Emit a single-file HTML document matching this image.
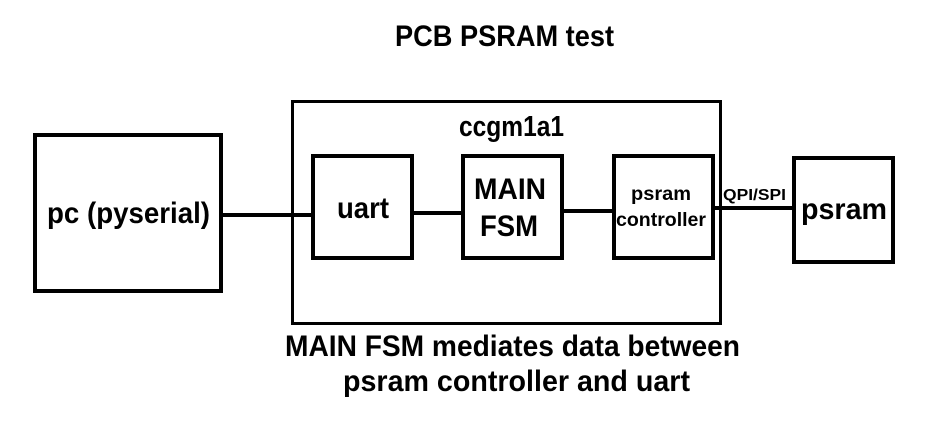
<!DOCTYPE html>
<html><head><meta charset="utf-8"><style>
html,body{margin:0;padding:0;background:#fff;}
svg{display:block}
text{font-family:"Liberation Sans",sans-serif;font-weight:bold;fill:#000;}
</style></head><body>
<svg width="932" height="422" viewBox="0 0 932 422" xmlns="http://www.w3.org/2000/svg">
<g fill="none" stroke="#000">
<rect x="35" y="135" width="186" height="156" stroke-width="4"/>
<rect x="292.5" y="101.5" width="428" height="222" stroke-width="3"/>
<rect x="313" y="156" width="99" height="102" stroke-width="4"/>
<rect x="463" y="156" width="99" height="102" stroke-width="4"/>
<rect x="614" y="156" width="99" height="102" stroke-width="4"/>
<rect x="794" y="158" width="99" height="104" stroke-width="4"/>
<line x1="223" y1="215" x2="311" y2="215" stroke-width="4"/>
<line x1="414" y1="213" x2="461" y2="213" stroke-width="4"/>
<line x1="564" y1="211" x2="612" y2="211" stroke-width="4"/>
<line x1="715" y1="208" x2="792" y2="208" stroke-width="4"/>
</g>
<text x="395" y="46" font-size="30" textLength="219" lengthAdjust="spacingAndGlyphs">PCB PSRAM test</text>
<text x="459" y="136" font-size="29" textLength="105" lengthAdjust="spacingAndGlyphs">ccgm1a1</text>
<text x="47" y="223" font-size="30" textLength="163" lengthAdjust="spacingAndGlyphs">pc (pyserial)</text>
<text x="337" y="218" font-size="30" textLength="52" lengthAdjust="spacingAndGlyphs">uart</text>
<text x="474" y="199" font-size="30" textLength="72" lengthAdjust="spacingAndGlyphs">MAIN</text>
<text x="480" y="236" font-size="30" textLength="58" lengthAdjust="spacingAndGlyphs">FSM</text>
<text x="631" y="200" font-size="19" textLength="60" lengthAdjust="spacingAndGlyphs">psram</text>
<text x="616" y="226" font-size="19" textLength="90" lengthAdjust="spacingAndGlyphs">controller</text>
<text x="723" y="200" font-size="16" textLength="63" lengthAdjust="spacingAndGlyphs">QPI/SPI</text>
<text x="801" y="219" font-size="30" textLength="86" lengthAdjust="spacingAndGlyphs">psram</text>
<text x="285" y="356" font-size="30" textLength="455" lengthAdjust="spacingAndGlyphs">MAIN FSM mediates data between</text>
<text x="343" y="391" font-size="30" textLength="347" lengthAdjust="spacingAndGlyphs">psram controller and uart</text>
</svg>
</body></html>
